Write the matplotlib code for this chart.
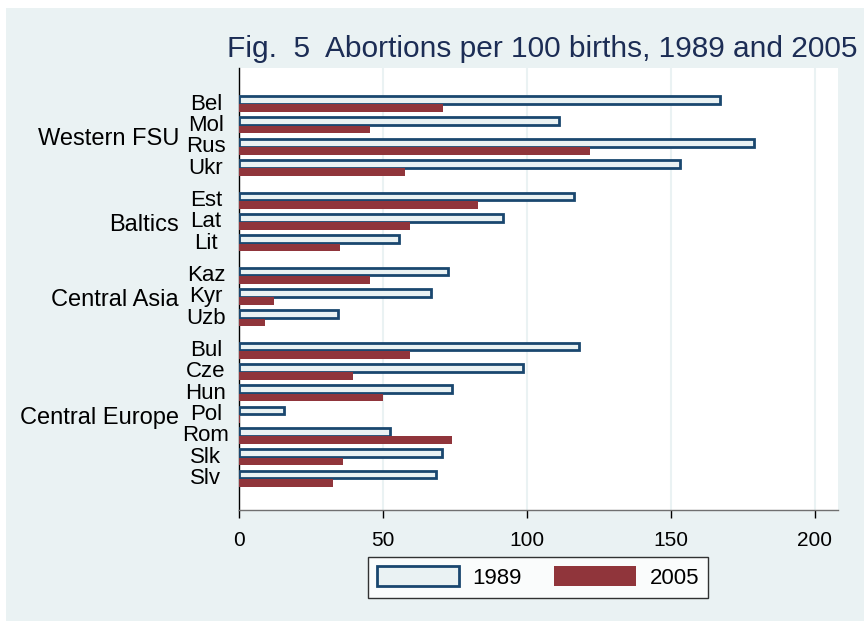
import numpy as np
import matplotlib.pyplot as plt
from matplotlib.patches import Rectangle, Patch

plt.rcParams['font.family'] = ['Liberation Sans', 'DejaVu Sans']

groups = ["Western FSU", "Baltics", "Central Asia", "Central Europe"]
group_sizes = [4, 3, 3, 7]
countries = ["Bel", "Mol", "Rus", "Ukr",
             "Est", "Lat", "Lit",
             "Kaz", "Kyr", "Uzb",
             "Bul", "Cze", "Hun", "Pol", "Rom", "Slk", "Slv"]
v1989 = [167, 111, 179, 153,
         116.5, 91.5, 55.5,
         72.5, 66.5, 34.5,
         118, 98.5, 74, 15.5, 52.5, 70.5, 68.5]
v2005 = [71, 45.5, 122, 57.5,
         83, 59.5, 35,
         45.5, 12, 9,
         59.5, 39.5, 50, 0.3, 74, 36, 32.5]

navy = "#1a476f"
maroon = "#90353b"
bg = "#eaf2f3"
title_col = "#1c2d55"

# row positions with a gap between groups
gap = 0.52
pos = []
gidx = []
k = 0
for g, n in enumerate(group_sizes):
    for i in range(n):
        pos.append(k + g * gap)
        gidx.append(g)
        k += 1
pos = np.array(pos)

fig = plt.figure(figsize=(8.64, 6.21), dpi=100)
fig.patch.set_facecolor("white")
fig.patches.append(Rectangle((6 / 864, 0), 1, 613 / 621, transform=fig.transFigure,
                             facecolor=bg, edgecolor="none", zorder=-10))

ax = fig.add_axes([239 / 864, 111 / 621, 599 / 864, 442 / 621])
ax.set_facecolor("white")

h = 0.36
ax.barh(pos - 0.19, v1989, height=h, color=bg, edgecolor=navy, linewidth=2, zorder=3)
ax.barh(pos + 0.2, v2005, height=h, color=maroon, edgecolor="none", zorder=3)

ax.set_xlim(0, 208)
ax.set_ylim(19.03, -1.69)
ax.set_xticks([0, 50, 100, 150, 200])
ax.tick_params(axis='x', length=6, width=1, pad=9, labelsize=15, colors="black")
ax.set_yticks([])
for x in [50, 100, 150, 200]:
    ax.axvline(x, color=bg, linewidth=1.5, zorder=1)

for s in ["top", "right"]:
    ax.spines[s].set_visible(False)
ax.spines["left"].set_color("black")
ax.spines["bottom"].set_color("#707070")
ax.spines["left"].set_linewidth(1)
ax.spines["bottom"].set_linewidth(1)

# country labels and group labels
for p, c in zip(pos, countries):
    ax.text(-11.5, p, c, ha="center", va="center", fontsize=16, clip_on=False)
for g, name in enumerate(groups):
    ys = pos[np.array(gidx) == g]
    ax.text(-20.8, ys.mean() + 0.15, name, ha="right", va="center", fontsize=17, clip_on=False)

fig.text(542 / 864, 1 - 57 / 621, "Fig.  5  Abortions per 100 births, 1989 and 2005",
         ha="center", va="baseline", fontsize=21.5, color=title_col)

handles = [Patch(facecolor=bg, edgecolor=navy, linewidth=2),
           Patch(facecolor=maroon, edgecolor="none")]
leg = fig.legend(handles, ["1989", "2005"], loc="center",
                 bbox_to_anchor=(538 / 864, 1 - 577.5 / 621), ncol=2,
                 fontsize=16, frameon=True, fancybox=False, handlelength=3.7,
                 handleheight=1.0, handletextpad=0.59, columnspacing=1.45,
                 borderpad=0.42)
leg.get_frame().set_edgecolor("black")
leg.get_frame().set_linewidth(1)
leg.get_frame().set_facecolor("white")

fig.savefig("out.png", dpi=100, facecolor=fig.get_facecolor())
